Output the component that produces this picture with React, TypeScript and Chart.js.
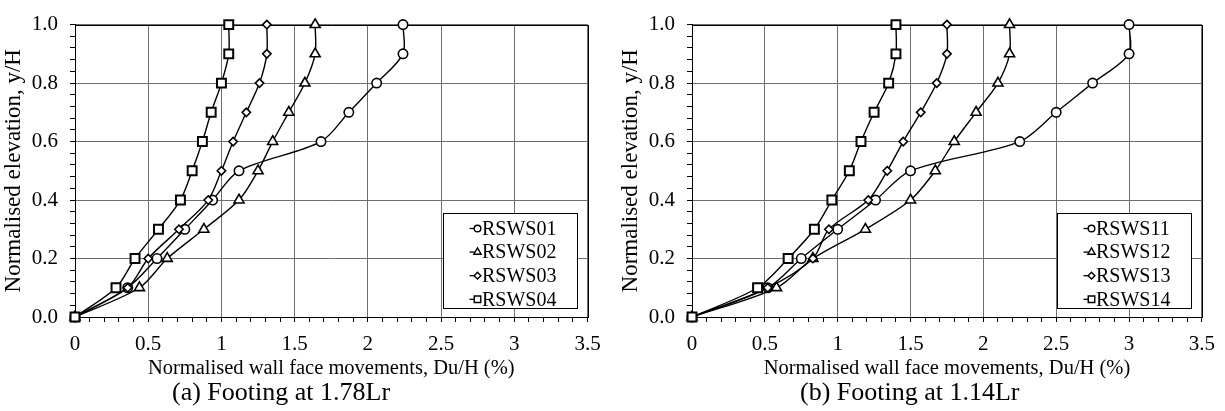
import React, { useEffect, useRef } from 'react';
import { Chart, registerables } from 'chart.js';

Chart.register(...registerables);

// ---------- data ----------
const ELEVATIONS = [0, 0.1, 0.2, 0.3, 0.4, 0.5, 0.6, 0.7, 0.8, 0.9, 1.0];

const LEFT_NAMES = ['RSWS01', 'RSWS02', 'RSWS03', 'RSWS04'];
const RSWS01 = [0, 0.36, 0.56, 0.75, 0.94, 1.12, 1.68, 1.87, 2.06, 2.24, 2.24];
const RSWS02 = [0, 0.44, 0.63, 0.88, 1.12, 1.25, 1.35, 1.46, 1.57, 1.64, 1.64];
const RSWS03 = [0, 0.36, 0.5, 0.71, 0.91, 1.0, 1.08, 1.17, 1.26, 1.31, 1.31];
const RSWS04 = [0, 0.28, 0.41, 0.57, 0.72, 0.8, 0.87, 0.93, 1.0, 1.05, 1.05];

const RIGHT_NAMES = ['RSWS11', 'RSWS12', 'RSWS13', 'RSWS14'];
const RSWS11 = [0, 0.52, 0.75, 1.0, 1.26, 1.5, 2.25, 2.5, 2.75, 3.0, 3.0];
const RSWS12 = [0, 0.58, 0.83, 1.19, 1.5, 1.67, 1.8, 1.95, 2.1, 2.18, 2.18];
const RSWS13 = [0, 0.52, 0.83, 0.94, 1.21, 1.34, 1.45, 1.57, 1.68, 1.75, 1.75];
const RSWS14 = [0, 0.45, 0.66, 0.84, 0.96, 1.08, 1.16, 1.25, 1.35, 1.4, 1.4];

const X_TICK_LABELS = ['0', '0.5', '1', '1.5', '2', '2.5', '3', '3.5'];
const Y_TICK_LABELS = ['0.0', '0.2', '0.4', '0.6', '0.8', '1.0'];

const X_TITLE = 'Normalised wall face movements, Du/H (%)';
const Y_TITLE = 'Normalised elevation, y/H';
const LEFT_CAPTION = '(a) Footing at 1.78Lr';
const RIGHT_CAPTION = '(b) Footing at 1.14Lr';

// ---------- styles ----------
const FONT = "'Liberation Serif', serif";
const MARKERS = ['circle', 'triangle', 'rectRot', 'rect'];
const MARKER_RADIUS = [4.7, 5.8, 4.2, 6.3];
const MARKER_BORDER = [1.6, 1.6, 1.6, 2];
const LEGEND_RADIUS = [3.3, 4.2, 3.4, 4.6];

const isMajorX = (v: number) => Math.round(v * 10) % 5 === 0;
const isMajorY = (v: number) => Math.round(v * 100) % 20 === 0;

function drawMarker(ctx: CanvasRenderingContext2D, style: string, x: number, y: number, r: number) {
  ctx.beginPath();
  if (style === 'circle') {
    ctx.arc(x, y, r, 0, Math.PI * 2);
  } else if (style === 'triangle') {
    ctx.moveTo(x, y - r);
    ctx.lineTo(x + r * Math.sin((2 * Math.PI) / 3), y + r / 2);
    ctx.lineTo(x - r * Math.sin((2 * Math.PI) / 3), y + r / 2);
    ctx.closePath();
  } else if (style === 'rectRot') {
    ctx.moveTo(x, y - r);
    ctx.lineTo(x + r, y);
    ctx.lineTo(x, y + r);
    ctx.lineTo(x - r, y);
    ctx.closePath();
  } else {
    const s = r * Math.SQRT1_2;
    ctx.rect(x - s, y - s, 2 * s, 2 * s);
  }
  ctx.fillStyle = '#fff';
  ctx.fill();
  ctx.stroke();
}

const framePlugin = {
  id: 'frame',
  beforeDatasetsDraw(chart: any) {
    const { ctx, chartArea } = chart;
    ctx.save();
    ctx.strokeStyle = '#000';
    ctx.lineWidth = 1;
    ctx.strokeRect(
      Math.round(chartArea.left) + 0.5,
      Math.round(chartArea.top) + 0.5,
      Math.round(chartArea.right - chartArea.left),
      Math.round(chartArea.bottom - chartArea.top)
    );
    ctx.restore();
  },
};

const boxLegendPlugin = {
  id: 'boxLegend',
  afterDraw(chart: any) {
    const { ctx, chartArea } = chart;
    const w = 134;
    const h = 95;
    const x0 = Math.round(chartArea.right - 10.5 - w) + 0.5;
    const y0 = Math.round(chartArea.bottom - 9 - h) + 0.5;
    ctx.save();
    ctx.fillStyle = '#fff';
    ctx.fillRect(x0, y0, w, h);
    ctx.strokeStyle = '#000';
    ctx.lineWidth = 1;
    ctx.strokeRect(x0, y0, w, h);
    chart.data.datasets.forEach((ds: any, i: number) => {
      const cy = y0 + 15 + i * 23.6;
      ctx.strokeStyle = '#000';
      ctx.lineWidth = 1.3;
      ctx.beginPath();
      ctx.moveTo(x0 + 26, cy);
      ctx.lineTo(x0 + 35, cy);
      ctx.stroke();
      ctx.lineWidth = 1.4;
      drawMarker(ctx, MARKERS[i], x0 + 34, cy, LEGEND_RADIUS[i]);
      ctx.fillStyle = '#000';
      ctx.font = `20px ${FONT}`;
      ctx.textBaseline = 'middle';
      ctx.textAlign = 'left';
      ctx.fillText(ds.label, x0 + 38.5, cy + 1);
    });
    ctx.restore();
  },
};

function buildConfig(names: string[], series: number[][], rightPad: number): any {
  return {
    type: 'line',
    data: {
      datasets: series.map((xs, i) => ({
        label: names[i],
        data: xs.map((x, j) => ({ x, y: ELEVATIONS[j] })),
        borderColor: '#000',
        borderWidth: 1.4,
        backgroundColor: '#fff',
        pointStyle: MARKERS[i],
        pointRadius: MARKER_RADIUS[i],
        pointBorderWidth: MARKER_BORDER[i],
        pointBorderColor: '#000',
        pointBackgroundColor: '#fff',
        tension: 0.3,
        fill: false,
        clip: false,
        order: series.length - i,
      })),
    },
    options: {
      responsive: false,
      animation: false,
      events: [],
      font: { family: FONT },
      layout: { padding: { left: 0, right: rightPad, top: 14, bottom: 30 } },
      plugins: { legend: { display: false }, tooltip: { enabled: false }, title: { display: false } },
      scales: {
        x: {
          type: 'linear',
          min: 0,
          max: 3.5,
          afterFit: (s: any) => {
            s.height = 64;
          },
          ticks: {
            stepSize: 0.1,
            autoSkip: false,
            maxRotation: 0,
            padding: 10,
            color: '#000',
            font: { family: FONT, size: 21 },
            callback: (v: number) => (isMajorX(v) ? X_TICK_LABELS[Math.round(v * 2)] : ''),
          },
          grid: {
            color: (c: any) => (c.tick && isMajorX(c.tick.value) ? '#6e6e6e' : 'rgba(0,0,0,0)'),
            tickColor: '#000',
            tickLength: 5,
            lineWidth: 1,
          },
          border: { color: '#000', width: 1 },
          title: {
            display: true,
            text: X_TITLE,
            color: '#000',
            font: { family: FONT, size: 20.5 },
            padding: 0,
          },
        },
        y: {
          type: 'linear',
          min: 0,
          max: 1,
          afterFit: (s: any) => {
            s.width = 75;
          },
          ticks: {
            stepSize: 0.04,
            autoSkip: false,
            padding: 12,
            color: '#000',
            font: { family: FONT, size: 21 },
            callback: (v: number) => (isMajorY(v) ? Y_TICK_LABELS[Math.round(v * 5)] : ''),
          },
          grid: {
            color: (c: any) => (c.tick && isMajorY(c.tick.value) ? '#6e6e6e' : 'rgba(0,0,0,0)'),
            tickColor: '#000',
            tickLength: 5,
            lineWidth: 1,
          },
          border: { color: '#000', width: 1 },
          title: {
            display: true,
            text: Y_TITLE,
            color: '#000',
            font: { family: FONT, size: 23 },
            padding: 0,
          },
        },
      },
    },
    plugins: [framePlugin, boxLegendPlugin],
  };
}

function Panel(props: {
  names: string[];
  series: number[][];
  left: number;
  width: number;
  rightPad: number;
  caption: string;
  captionLeft: number;
}) {
  const ref = useRef<HTMLCanvasElement | null>(null);
  useEffect(() => {
    let chart: Chart | null = null;
    let cancelled = false;
    const make = () => {
      if (cancelled || !ref.current) return;
      chart = new Chart(ref.current, buildConfig(props.names, props.series, props.rightPad));
    };
    const fonts: any = (document as any).fonts;
    if (fonts && fonts.load) {
      Promise.all([fonts.load("20px 'Liberation Serif'"), fonts.load("23px 'Liberation Serif'")])
        .then(make, make);
    } else {
      make();
    }
    return () => {
      cancelled = true;
      if (chart) chart.destroy();
    };
  }, []);
  return (
    <>
      <canvas
        ref={ref}
        width={props.width}
        height={411}
        style={{ position: 'absolute', left: props.left, top: 0, width: props.width, height: 411 }}
      />
      <div
        style={{
          position: 'absolute',
          left: props.captionLeft,
          top: 377,
          fontFamily: FONT,
          fontSize: 26,
          lineHeight: '30px',
          color: '#000',
          whiteSpace: 'nowrap',
        }}
      >
        {props.caption}
      </div>
    </>
  );
}

export default function App() {
  return (
    <div style={{ position: 'absolute', left: 0, top: 0, width: 1225, height: 411, background: '#fff', overflow: 'hidden', fontFamily: FONT }}>
      <Panel
        names={LEFT_NAMES}
        series={[RSWS01, RSWS02, RSWS03, RSWS04]}
        left={0}
        width={612}
        rightPad={24.5}
        caption={LEFT_CAPTION}
        captionLeft={172}
      />
      <Panel
        names={RIGHT_NAMES}
        series={[RSWS11, RSWS12, RSWS13, RSWS14]}
        left={617}
        width={608}
        rightPad={21.5}
        caption={RIGHT_CAPTION}
        captionLeft={800}
      />
    </div>
  );
}
